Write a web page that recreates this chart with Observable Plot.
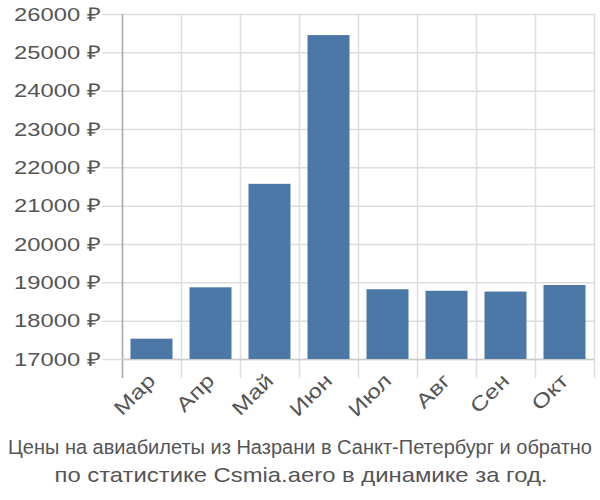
<!DOCTYPE html>
<html><head><meta charset="utf-8">
<script src="https://cdn.jsdelivr.net/npm/d3@7"></script>
<script src="https://cdn.jsdelivr.net/npm/@observablehq/plot@0.6"></script>
<style>
body{margin:0;background:#fff;font-family:"Liberation Sans",Arial,sans-serif;}
#chart svg{display:block;}
</style></head>
<body><div id="chart"></div>
<script>
const months = ["Мар","Апр","Май","Июн","Июл","Авг","Сен","Окт"];
const prices = [17530, 18870, 21570, 25450, 18820, 18780, 18760, 18930];
const yTicks = [17000,18000,19000,20000,21000,22000,23000,24000,25000,26000];
const captionLines = ["Цены на авиабилеты из Назрани в Санкт-Петербург и обратно","по статистике Csmia.aero в динамике за год."];

const data = months.map((m,i)=>({month:m, price:prices[i]}));
const W = 600, H = 420;
const chart = Plot.plot({
  width: W, height: H,
  marginLeft: 122, marginRight: 6, marginTop: 14, marginBottom: 61,
  style: {fontFamily: '"Liberation Sans", Arial, sans-serif', fontSize: "19px", color: "#555", background: "#fff"},
  x: {type: "band", domain: months, padding: 0, label: null},
  y: {domain: [17000, 26000], label: null},
  marks: [
    Plot.ruleY(yTicks, {stroke: "#ddd", strokeWidth: 1.5, insetLeft: -20}),
    Plot.ruleX(months, {x: d=>d, dx: -29.5, stroke: "#ddd", strokeWidth: 1.5, insetBottom: -19}),
    Plot.ruleX(months.slice(-1), {x: d=>d, dx: 29.5, stroke: "#ddd", strokeWidth: 1.5, insetBottom: -19}),
    Plot.ruleX(months.slice(0,1), {x: d=>d, dx: -29.5, stroke: "#aaa", strokeWidth: 1.5, insetBottom: -19}),
    Plot.ruleY([17000], {stroke: "#ccc", strokeWidth: 1.5}),
    Plot.barY(data, {x: "month", y1: 17000, y2: "price", fill: "#4c78a8", insetLeft: 8.5, insetRight: 8.5}),
    Plot.axisY(yTicks, {tickSize: 0, tickPadding: 22, tickFormat: d => `${d} ₽`, fill: "#555", fontSize: 19}),
    Plot.axisX({tickSize: 0, tickPadding: 18, tickRotate: -45, fill: "#555", fontSize: 20})
  ]
});
document.getElementById("chart").appendChild(chart);

// widen axis labels to match the reference's wide glyphs
chart.querySelectorAll('g[aria-label="y-axis tick label"] text, g[aria-label="x-axis tick label"] text').forEach(t => {
  const w = t.getComputedTextLength();
  t.setAttribute("textLength", (w * 1.25).toFixed(1));
  t.setAttribute("lengthAdjust", "spacingAndGlyphs");
});

const ns = "http://www.w3.org/2000/svg";
const cap = document.createElementNS(ns, "svg");
cap.setAttribute("width", W); cap.setAttribute("height", 500 - H);
const ys = [34, 62];
const sizes = [20, 21];
captionLines.forEach((t,i)=>{
  const el = document.createElementNS(ns, "text");
  el.setAttribute("x", i === 0 ? W/2 : 301); el.setAttribute("y", ys[i]);
  el.setAttribute("text-anchor", "middle");
  el.setAttribute("fill", "#555");
  el.setAttribute("font-size", sizes[i]);
  el.setAttribute("font-family", '"Liberation Sans", Arial, sans-serif');
  el.textContent = t;
  if (i === 1) { el.setAttribute("textLength", 493); el.setAttribute("lengthAdjust", "spacingAndGlyphs"); }
  cap.appendChild(el);
});
document.getElementById("chart").appendChild(cap);
</script></body></html>
